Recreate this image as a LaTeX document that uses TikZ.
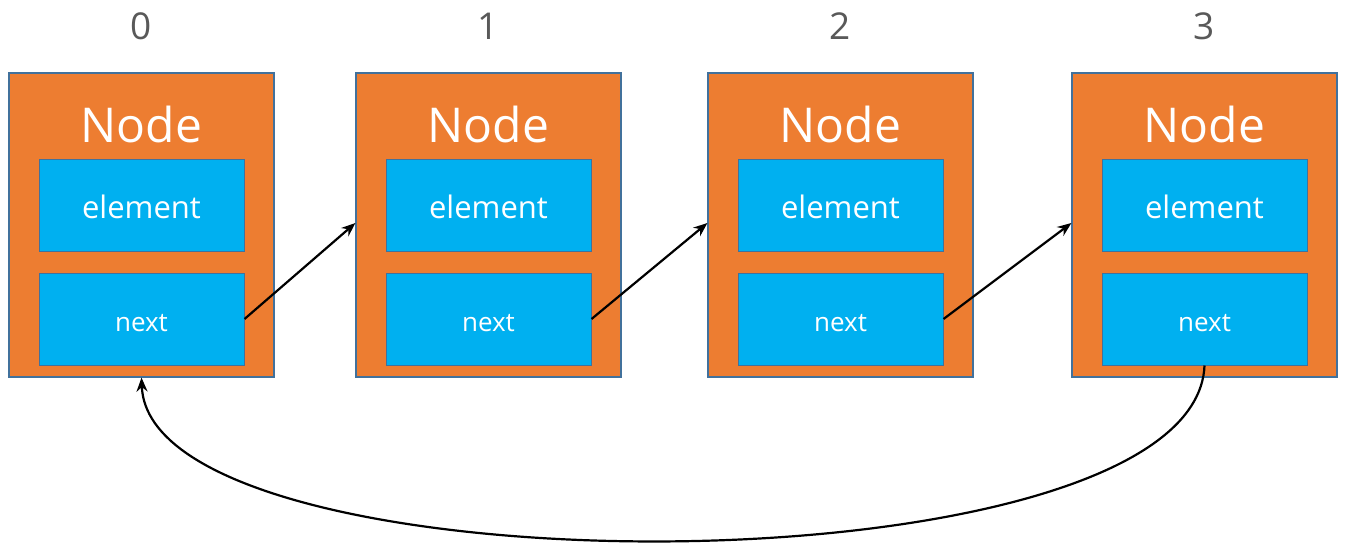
\documentclass[tikz,border=0pt]{standalone}
\usepackage{fontspec}
\setmainfont{Open Sans}
\usetikzlibrary{arrows.meta}
\definecolor{orng}{HTML}{ED7D31}
\definecolor{skyb}{HTML}{00B0F0}
\definecolor{edgeb}{HTML}{41719C}
\definecolor{lblgray}{HTML}{595959}
\tikzset{
  outerbox/.style={draw=edgeb,line width=1.2pt,fill=orng,minimum width=265pt,minimum height=304pt,inner sep=0pt},
  fieldbox/.style={draw=edgeb,line width=1pt,fill=skyb,minimum width=205pt,minimum height=92pt,inner sep=0pt,text=white,text depth=0pt},
  titletext/.style={text=white,font=\fontsize{48}{50}\selectfont,inner sep=0pt},
  elemtext/.style={font=\fontsize{31}{34}\selectfont,text height=25pt},
  nexttext/.style={font=\fontsize{26}{30}\selectfont,text height=24pt},
  idxtext/.style={text=lblgray,font=\fontsize{37}{40}\selectfont,inner sep=0pt},
  link/.style={draw=black,line width=2.2pt,-{Stealth[length=14pt,width=11pt]}}
}
\begin{document}
\begin{tikzpicture}[x=1pt,y=-1pt]
\useasboundingbox[fill=white] (0,0) rectangle (1348,551);
\foreach \i/\cx in {0/141.5,1/488.5,2/840.5,3/1204.5}{
  \node[idxtext] (lbl\i) at (\cx,26) {\i};
  \node[outerbox] (n\i) at (\cx,225) {};
  \node[titletext] (t\i) at (\cx,124.5) {Node};
  \node[fieldbox,elemtext] (e\i) at (\cx,205.5) {element};
  \node[fieldbox,nexttext] (x\i) at (\cx,319) {next};
}
\draw[link] (x0.east) -- ([yshift=2pt]n1.west);
\draw[link] (x1.east) -- ([yshift=2pt]n2.west);
\draw[link] (x2.east) -- ([yshift=2pt]n3.west);
\draw[link] (x3.south) .. controls +(-9,231) and +(8,219) .. (n0.south);
\end{tikzpicture}
\end{document}
